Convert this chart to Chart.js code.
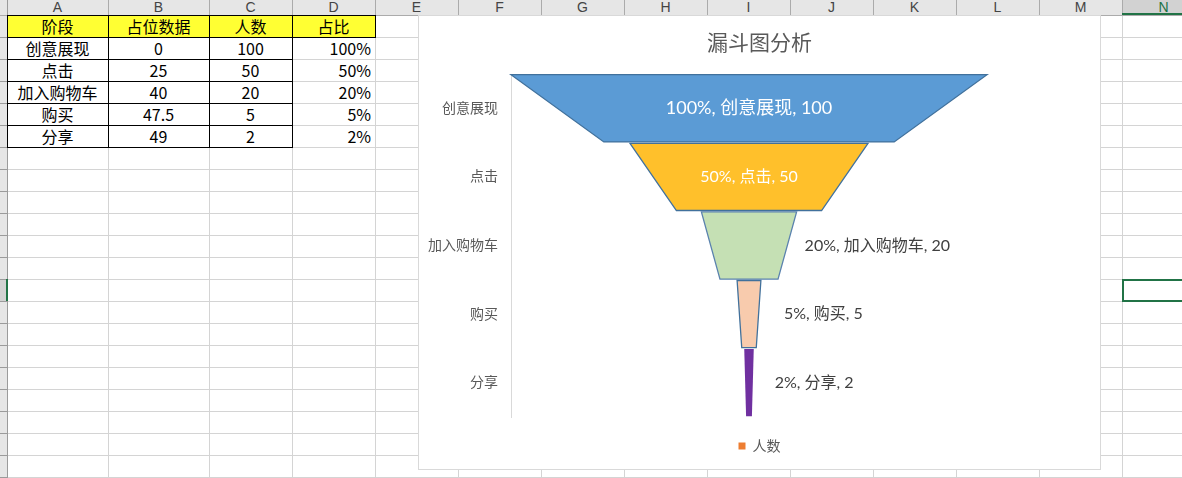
<!DOCTYPE html>
<html><head><meta charset="utf-8">
<script src="https://cdn.jsdelivr.net/npm/chart.js@4.4.0/dist/chart.umd.min.js"></script>
<style>
body{margin:0;width:1182px;height:478px;overflow:hidden;background:#fff;position:relative;font-family:"Noto Sans CJK SC",sans-serif;}
.a{position:absolute;box-sizing:border-box;}
.cell{position:absolute;font-size:16px;line-height:22px;height:22px;color:#000;white-space:nowrap;}
.ch{position:absolute;top:0;height:15px;line-height:15px;font-size:14px;color:#444;text-align:center;font-family:"Liberation Sans",sans-serif;}
</style></head><body>
<div id="sheet"></div>
<div id="chartBox" class="a" style="left:418px;top:15px;width:683px;height:455px;border:1px solid #D9D9D9;background:#fff;z-index:5;">
<canvas id="c" width="681" height="453" style="display:block;width:681px;height:453px;"></canvas></div>
<script>
// ---- data ----
const headers = ['阶段', '占位数据', '人数', '占比'];
const categories = ['创意展现', '点击', '加入购物车', '购买', '分享'];
const placeholder = [0, 25, 40, 47.5, 49];
const people = [100, 50, 20, 5, 2];
const percents = ['100%', '50%', '20%', '5%', '2%'];
const colLetters = ['A','B','C','D','E','F','G','H','I','J','K','L','M','N'];
const chartTitle = '漏斗图分析';

// ---- spreadsheet layout ----
const colX = [7,108,209,292,375,458,541,624,707,790,873,956,1039,1122,1205];
const rowY = []; for (let y = 15; y <= 478; y += 22) rowY.push(y);
const sheet = document.getElementById('sheet');
function div(style, cls, text){ const d=document.createElement('div'); d.className=cls||'a'; d.style.cssText=style; if(text!==undefined) d.textContent=text; sheet.appendChild(d); return d; }
// header backgrounds
div('left:0;top:0;width:1182px;height:15px;background:#E6E6E6;');
div('left:0;top:0;width:7px;height:478px;background:#E6E6E6;');
div(`left:${colX[13]}px;top:0;width:${1182-colX[13]}px;height:15px;background:#D2D2D2;`);
div(`left:0;top:${rowY[12]}px;width:7px;height:22px;background:#D2D2D2;`);
// grid lines
for (let i = 1; i < colX.length - 1; i++) {
  div(`left:${colX[i]}px;top:15px;width:1px;height:463px;background:#D4D4D4;`);
  div(`left:${colX[i]}px;top:0;width:1px;height:15px;background:#ABABAB;`);
}
for (let j = 1; j < rowY.length; j++) {
  div(`left:7px;top:${rowY[j]}px;width:1175px;height:1px;background:#D4D4D4;`);
  div(`left:0;top:${rowY[j]}px;width:7px;height:1px;background:#9B9B9B;`);
}
div('left:0;top:15px;width:1182px;height:1px;background:#ABABAB;');
div('left:7px;top:0;width:1px;height:478px;background:#9B9B9B;');
// column letters
for (let i = 0; i < colLetters.length; i++) {
  const w = colX[i+1]-colX[i];
  const d = div(`left:${colX[i]}px;width:${w}px;`, 'ch', colLetters[i]);
  if (i === 13) d.style.color = '#217346';
}
div(`left:${colX[13]}px;top:13px;width:${1182-colX[13]}px;height:2px;background:#217346;`);
div(`left:6px;top:${rowY[12]}px;width:2px;height:22px;background:#217346;`);
// selected cell
div(`left:${colX[13]}px;top:${rowY[12]}px;width:${1182-colX[13]+2}px;height:23px;border:2px solid #217346;`);
// header row yellow
div(`left:${colX[0]}px;top:${rowY[0]}px;width:${colX[4]-colX[0]}px;height:22px;background:#FFFF33;`);
// table text
const cols = [categories, placeholder, people, percents];
for (let c = 0; c < 4; c++) {
  const w = colX[c+1]-colX[c];
  div(`left:${colX[c]}px;top:${rowY[0]}px;width:${w}px;text-align:center;`, 'cell', headers[c]);
  for (let r = 0; r < 5; r++) {
    const align = c === 3 ? 'text-align:right;padding-right:4px;box-sizing:border-box;' : 'text-align:center;';
    div(`left:${colX[c]}px;top:${rowY[r+1]}px;width:${w}px;${align}`, 'cell', String(cols[c][r]));
  }
}
// black borders
div(`left:${colX[0]}px;top:${rowY[0]}px;width:${colX[4]-colX[0]+1}px;height:1px;background:#000;`);
div(`left:${colX[0]}px;top:${rowY[1]}px;width:${colX[4]-colX[0]+1}px;height:1px;background:#000;`);
for (let r = 2; r <= 6; r++) div(`left:${colX[0]}px;top:${rowY[r]}px;width:${colX[3]-colX[0]+1}px;height:1px;background:#000;`);
for (let c = 0; c <= 3; c++) div(`left:${colX[c]}px;top:${rowY[0]}px;width:1px;height:${rowY[6]-rowY[0]+1}px;background:#000;`);
div(`left:${colX[4]}px;top:${rowY[0]}px;width:1px;height:23px;background:#000;`);

// ---- chart ----
const FONT = 'Lato, "Noto Sans CJK SC", sans-serif';
const fillColors = ['#5B9BD5', '#FFC02B', '#C5E0B4', '#F8CBAD', '#7030A0'];
const strokeColors = ['#41719C', '#41719C', '#5A82AE', '#41719C', null];
const taper = 0.61;
const labelOffsets = [null, null, 8, 23, 21];

const funnelPlugin = {
  id: 'funnel',
  beforeDatasetDraw(chart, args) {
    if (args.index === 0) return false;
    if (args.index !== 1) return;
    const ctx = chart.ctx;
    const meta = chart.getDatasetMeta(1);
    meta.data.forEach((el, i) => {
      const p = el.getProps(['x', 'base', 'y', 'height'], true);
      const left = Math.min(p.x, p.base), right = Math.max(p.x, p.base);
      const w = right - left, cx = (left + right) / 2;
      const top = p.y - p.height / 2, bot = p.y + p.height / 2;
      const bw = w * taper;
      ctx.save();
      ctx.beginPath();
      ctx.moveTo(left, top); ctx.lineTo(right, top);
      ctx.lineTo(cx + bw / 2, bot); ctx.lineTo(cx - bw / 2, bot);
      ctx.closePath();
      ctx.fillStyle = fillColors[i]; ctx.fill();
      if (strokeColors[i]) { ctx.strokeStyle = strokeColors[i]; ctx.lineWidth = 1.3; ctx.stroke(); }
      ctx.restore();
    });
    return false;
  },
  afterDatasetsDraw(chart) {
    const ctx = chart.ctx;
    const meta = chart.getDatasetMeta(1);
    meta.data.forEach((el, i) => {
      const p = el.getProps(['x', 'base', 'y'], true);
      const left = Math.min(p.x, p.base), right = Math.max(p.x, p.base);
      const text = `${percents[i]}, ${categories[i]}, ${people[i]}`;
      ctx.save();
      ctx.textBaseline = 'middle';
      if (labelOffsets[i] === null) {
        ctx.font = `${i === 0 ? 18 : 16}px ${FONT}`;
        ctx.fillStyle = '#FFFFFF';
        ctx.textAlign = 'center';
        ctx.fillText(text, (left + right) / 2, p.y);
      } else {
        ctx.font = `16px ${FONT}`;
        ctx.fillStyle = '#404040';
        ctx.textAlign = 'left';
        ctx.fillText(text, right + labelOffsets[i], p.y);
      }
      ctx.restore();
    });
  }
};

new Chart(document.getElementById('c'), {
  type: 'bar',
  data: {
    labels: categories,
    datasets: [
      { label: '占位数据', data: placeholder, backgroundColor: 'rgba(0,0,0,0)' },
      { label: '人数', data: people, backgroundColor: '#ED7D31', borderWidth: 0 }
    ]
  },
  options: {
    indexAxis: 'y',
    responsive: false,
    animation: false,
    devicePixelRatio: 1,
    layout: { padding: { left: 0, right: 0, top: 0, bottom: 6 } },
    datasets: { bar: { categoryPercentage: 1, barPercentage: 0.98 } },
    scales: {
      x: { stacked: true, min: 0, max: 100, ticks: { display: false }, grid: { display: false }, border: { display: false },
           afterFit(s) { s.height = 12; } },
      y: { stacked: true, grid: { display: false, drawTicks: false }, border: { display: true, color: '#D9D9D9', width: 1 },
           ticks: { color: '#595959', font: { size: 14, family: FONT }, padding: 13 },
           afterFit(s) { s.width = 92; } },
      yRight: { type: 'category', position: 'right', grid: { display: false, drawTicks: false }, border: { display: false },
           ticks: { display: false }, afterFit(s) { s.width = 113; } }
    },
    plugins: {
      title: { display: true, text: chartTitle, color: '#595959', font: { size: 21, weight: 'normal', family: FONT },
               padding: { top: 14.4, bottom: 18.4 } },
      legend: { position: 'bottom',
                labels: { filter: (item) => item.datasetIndex === 1, boxWidth: 7, boxHeight: 7, color: '#595959',
                          font: { size: 14, family: FONT }, padding: 10 } },
      tooltip: { enabled: false }
    }
  },
  plugins: [funnelPlugin]
});
</script>
</body></html>
